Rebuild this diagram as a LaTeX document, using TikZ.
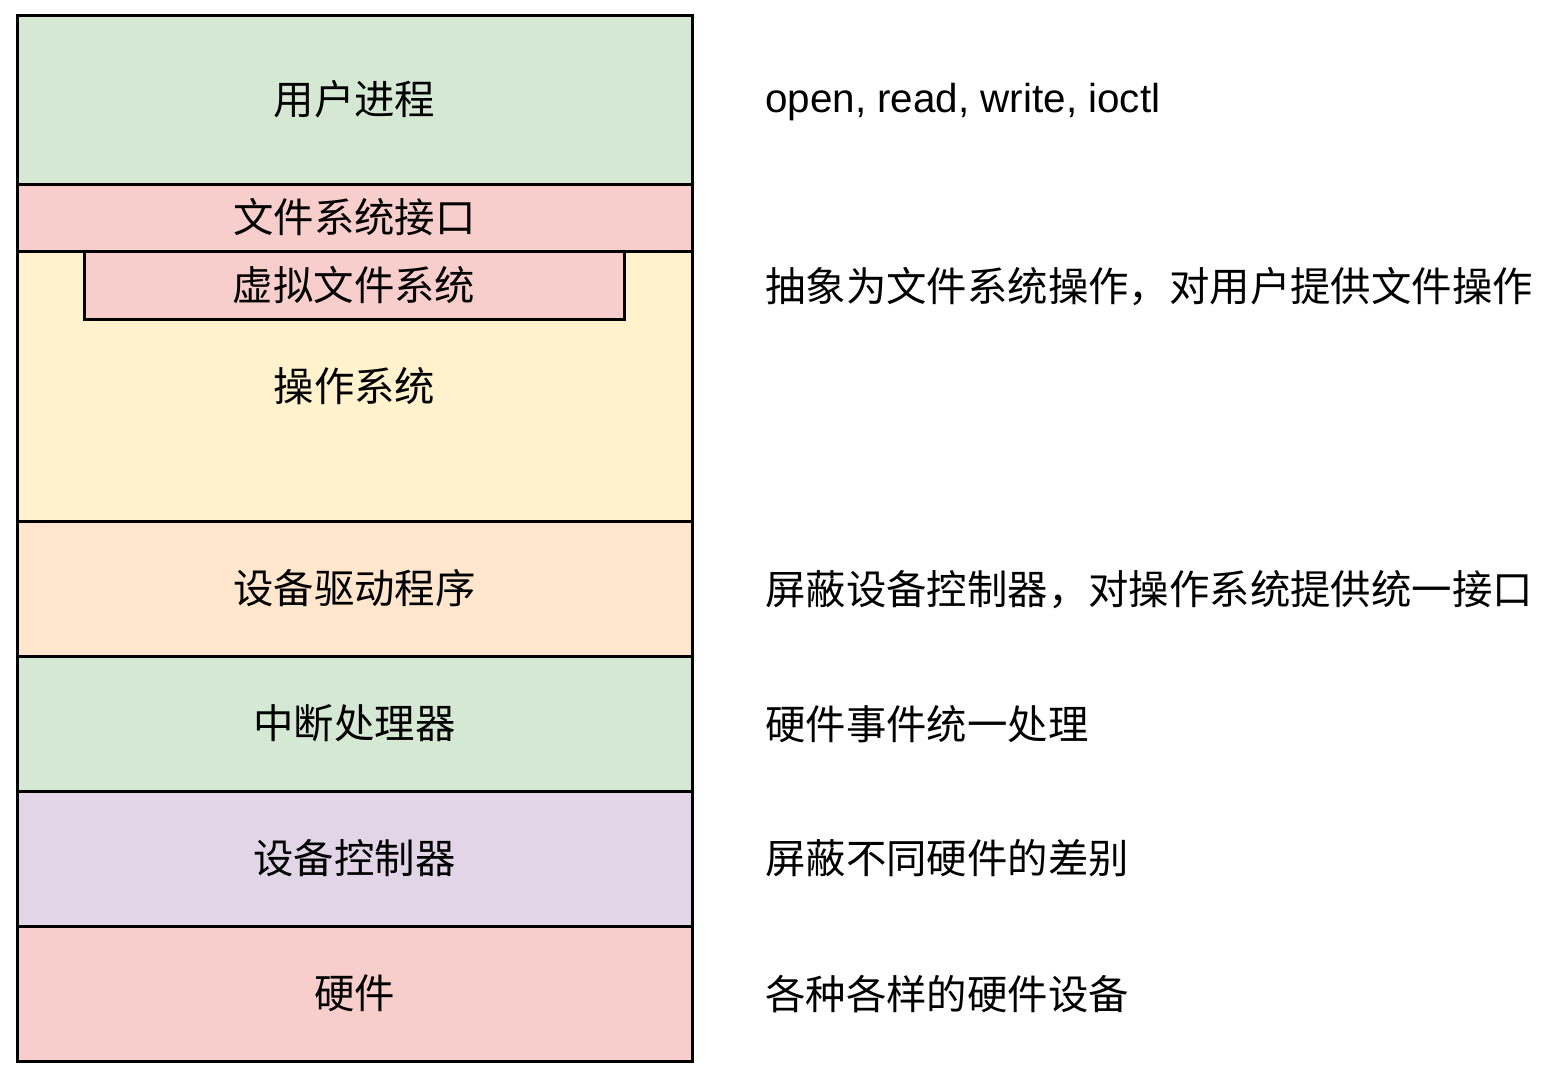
\documentclass[tikz,border=0pt]{standalone}
\usepackage{fontspec}
\setmainfont{Liberation Sans}
\newfontfamily\cjk{Noto Sans CJK SC}
\definecolor{cgreen}{HTML}{D5E8D4}
\definecolor{cpink}{HTML}{F8CECC}
\definecolor{cyellow}{HTML}{FFF2CC}
\definecolor{corange}{HTML}{FFE6CC}
\definecolor{cpurple}{HTML}{E1D5E7}
\tikzset{
  layer/.style={draw=black, line width=3pt, inner sep=0pt, outer sep=0pt,
    minimum width=675pt, anchor=north west, font=\fontsize{40.4}{40}\selectfont\cjk},
  desc/.style={anchor=west, inner sep=0pt, font=\fontsize{40.4}{40}\selectfont\cjk},
}
\begin{document}
\begin{tikzpicture}[x=1pt,y=-1pt]
\useasboundingbox (0,0) rectangle (1562,1076);
\fill[white] (0,0) rectangle (1562,1076);
\node[layer, fill=cgreen, minimum height=169pt] (user) at (17,15) {用户进程};
\node[layer, fill=cyellow, minimum height=270pt] (os) at (17,251) {操作系统};
\node[layer, fill=cpink, minimum height=67pt] (fsi) at (17,184) {文件系统接口};
\node[layer, fill=cpink, minimum height=68pt, minimum width=540pt] (vfs) at (84,251) {虚拟文件系统};
\node[layer, fill=corange, minimum height=135pt] (drv) at (17,521) {设备驱动程序};
\node[layer, fill=cgreen, minimum height=135pt] (irq) at (17,656) {中断处理器};
\node[layer, fill=cpurple, minimum height=135pt] (ctl) at (17,791) {设备控制器};
\node[layer, fill=cpink, minimum height=135pt] (hw) at (17,926) {硬件};
\node[desc, font=\fontsize{40.4}{40}\selectfont] (d1) at (765,102) {open, read, write, ioctl};
\node[desc] (d2) at (765,287) {抽象为文件系统操作，对用户提供文件操作};
\node[desc] (d3) at (765,590) {屏蔽设备控制器，对操作系统提供统一接口};
\node[desc] (d4) at (765,724) {硬件事件统一处理};
\node[desc] (d5) at (765,858) {屏蔽不同硬件的差别};
\node[desc] (d6) at (765,994) {各种各样的硬件设备};
\end{tikzpicture}
\end{document}
